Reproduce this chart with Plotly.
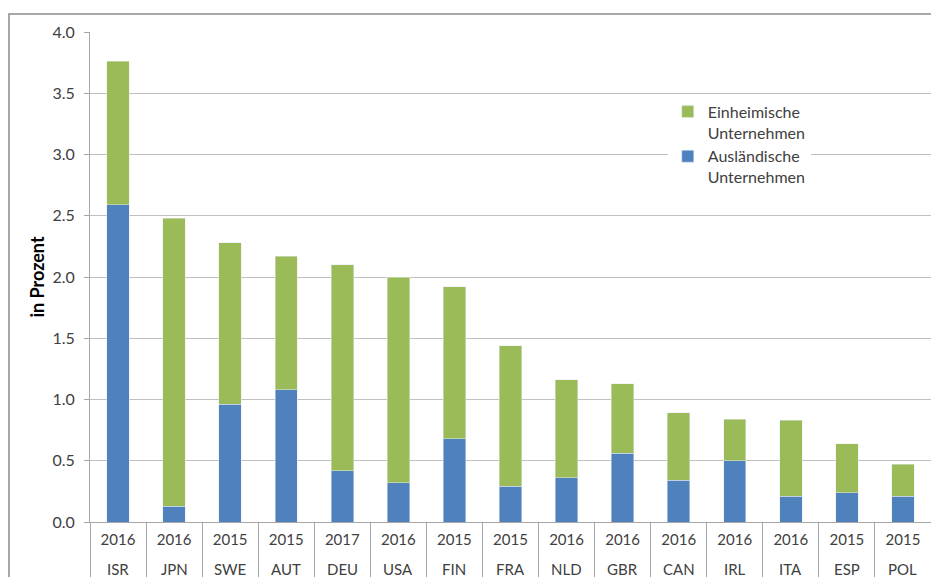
import plotly.graph_objects as go

# Data
countries = ["ISR", "JPN", "SWE", "AUT", "DEU", "USA", "FIN", "FRA", "NLD", "GBR",
             "CAN", "IRL", "ITA", "ESP", "POL"]
years = ["2016", "2016", "2015", "2015", "2017", "2016", "2015", "2015", "2016", "2016",
         "2016", "2016", "2016", "2015", "2015"]
auslaendisch = [2.59, 0.13, 0.96, 1.08, 0.42, 0.32, 0.68, 0.29, 0.36, 0.56,
                0.34, 0.50, 0.21, 0.24, 0.21]
einheimisch = [1.17, 2.35, 1.32, 1.09, 1.68, 1.68, 1.24, 1.15, 0.80, 0.57,
               0.55, 0.34, 0.62, 0.40, 0.26]

BLUE = "#4F81BD"
GREEN = "#9BBB59"
FONT = "Lato, Open Sans, sans-serif"
TXT = "#404040"

fig = go.Figure()
fig.add_trace(go.Bar(x=countries, y=auslaendisch, name="Ausländische<br>Unternehmen",
                     marker_color=BLUE, width=0.4, legendgroup="a"))
fig.add_trace(go.Bar(x=countries, y=einheimisch, name="Einheimische<br>Unternehmen",
                     marker_color=GREEN, width=0.4, legendgroup="e"))

# page has 8px body margin, so the figure is 16px smaller than the window
fig.update_layout(
    barmode="stack",
    width=923, height=569,
    margin=dict(l=82, r=0, t=24, b=55),
    plot_bgcolor="white", paper_bgcolor="white",
    font=dict(family=FONT, size=15, color=TXT),
    legend=dict(x=0.687, y=0.872, xanchor="left", yanchor="top",
                traceorder="reversed", bgcolor="white", valign="top",
                font=dict(size=16, color=TXT),
                itemwidth=30, tracegroupgap=11),
    showlegend=True,
)

fig.update_yaxes(
    range=[0, 4.0], dtick=0.5, tickformat=".1f",
    showgrid=True, gridcolor="#C0C0C0", gridwidth=1,
    showline=True, linecolor="#A6A6A6", linewidth=1,
    ticks="outside", ticklen=5, tickcolor="#A6A6A6",
    ticklabelstandoff=6,
    zeroline=False, automargin=False,
    tickfont=dict(size=16),
    title=dict(text="<b>in Prozent</b>", font=dict(size=18, color="#000000"), standoff=3),
)
# years as tick labels, ticks on category boundaries act as the column dividers
fig.update_xaxes(
    type="category",
    tickmode="array", tickvals=countries, ticktext=years,
    showline=True, linecolor="#A6A6A6", linewidth=1,
    ticks="outside", tickson="boundaries", ticklen=60, tickcolor="#A6A6A6",
    ticklabelstandoff=4,
    automargin=False,
    tickfont=dict(size=15, color=TXT),
)

# country codes as second label row
for c in countries:
    fig.add_annotation(x=c, y=-0.0959, xref="x", yref="paper", text=c,
                       showarrow=False, yanchor="middle",
                       font=dict(size=15, color=TXT))

# outer frame
fig.add_shape(type="rect", xref="paper", yref="paper",
              x0=-0.0963, x1=1.02, y0=-0.3, y1=1.0367,
              line=dict(color="#8C8C8C", width=1.5), fillcolor="rgba(0,0,0,0)")

fig.write_html("out.html")
